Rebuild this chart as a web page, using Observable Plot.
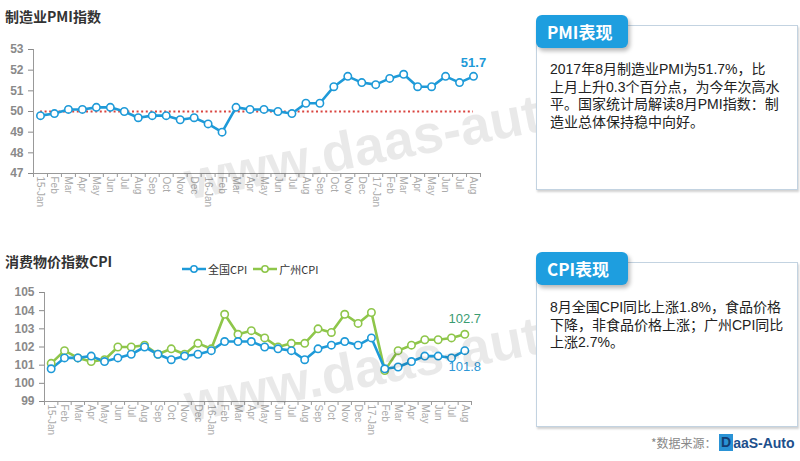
<!DOCTYPE html>
<html>
<head>
<meta charset="utf-8">
<script src="https://cdn.jsdelivr.net/npm/d3@7"></script>
<script src="https://cdn.jsdelivr.net/npm/@observablehq/plot@0.6"></script>
<style>
  html, body { margin: 0; padding: 0; background: #fff; }
  body { width: 800px; height: 461px; position: relative; overflow: hidden;
         font-family: "Noto Sans CJK SC", "Liberation Sans", sans-serif; }
  .abs { position: absolute; }
  .title { font-size: 14px; font-weight: bold; color: #333; white-space: nowrap; }
  .box { border: 1.5px solid #c3d3e1; box-shadow: 1px 2px 2px rgba(0,0,0,0.18); background: #fff; }
  .tab { background: #1e9edf; border-radius: 6px; color: #fff; font-weight: bold; font-size: 17px;
         box-shadow: 2px 3px 4px rgba(0,0,0,0.28); line-height: 33px; padding-left: 11px; box-sizing: border-box; }
  .txt { font-family: "Liberation Sans", "Noto Sans CJK SC", sans-serif; font-size: 14px; color: #222;
         line-height: 17.6px; white-space: nowrap; }
  .legend { font-size: 11px; color: #333; display: flex; align-items: center; white-space: nowrap; }
  .legend span.item { display: inline-flex; align-items: center; margin-right: 6px; }
  .wm { font-family: "Liberation Sans", Arial, sans-serif; font-weight: bold; font-size: 54px;
        color: rgba(0,0,0,0.085); white-space: nowrap; pointer-events: none; transform-origin: left center; }
</style>
</head>
<body>
<div class="abs title" style="left:5px; top:6px;">制造业PMI指数</div>
<div id="pmi" class="abs" style="left:0; top:0;"></div>

<div class="abs title" style="left:5px; top:251px;">消费物价指数CPI</div>
<div id="legend" class="abs legend" style="left:182px; top:261px;"></div>
<div id="cpi" class="abs" style="left:0; top:240px;"></div>

<div class="abs wm" style="left:185px; top:150px; transform: rotate(-11deg);">www.daas-auto.com</div>
<div class="abs wm" style="left:185px; top:372px; transform: rotate(-11deg);">www.daas-auto.com</div>

<div class="abs box" style="left:536px; top:25px; width:260px; height:163px;"></div>
<div class="abs tab" style="left:536px; top:15px; width:92px; height:33px;">PMI表现</div>
<div class="abs txt" style="left:550px; top:61px;">2017年8月制造业PMI为51.7%，比<br>上月上升0.3个百分点，为今年次高水<br>平。国家统计局解读8月PMI指数：制<br>造业总体保持稳中向好。</div>

<div class="abs box" style="left:536px; top:262px; width:260px; height:163px;"></div>
<div class="abs tab" style="left:536px; top:252px; width:92px; height:33px;">CPI表现</div>
<div class="abs txt" style="left:550px; top:299px;">8月全国CPI同比上涨1.8%，食品价格<br>下降，非食品价格上涨；广州CPI同比<br>上涨2.7%。</div>

<div class="abs" style="left:651px; top:434px; font-size:12px; color:#888;">*数据来源：</div>
<div class="abs" style="left:719px; top:434px; display:flex; align-items:center; font-family:'Liberation Sans',Arial,sans-serif; font-weight:bold; font-size:14px; color:#1d4f8c;">
  <span style="background:#2a93d6; color:#123d73; padding:0 2px; line-height:17px;">D</span><span>aaS-Auto</span>
</div>

<script>
const months = ["15-Jan","Feb","Mar","Apr","May","Jun","Jul","Aug","Sep","Oct","Nov","Dec",
                "16-Jan","Feb","Mar","Apr","May","Jun","Jul","Aug","Sep","Oct","Nov","Dec",
                "17-Jan","Feb","Mar","Apr","May","Jun","Jul","Aug"];
const pmi = [49.8,49.9,50.1,50.1,50.2,50.2,50.0,49.7,49.8,49.8,49.6,49.7,
             49.4,49.0,50.2,50.1,50.1,50.0,49.9,50.4,50.4,51.2,51.7,51.4,
             51.3,51.6,51.8,51.2,51.2,51.7,51.4,51.7];
const pmiRef = 50;
const pmiTicks = [47,48,49,50,51,52,53];

const cpiNational = [100.8,101.4,101.4,101.5,101.2,101.4,101.6,102.0,101.6,101.3,101.5,101.6,
                     101.8,102.3,102.3,102.3,102.0,101.9,101.8,101.3,101.9,102.1,102.3,102.1,
                     102.5,100.8,100.9,101.2,101.5,101.5,101.4,101.8];
const cpiGuangzhou = [101.1,101.8,101.4,101.2,101.3,102.0,102.0,102.1,101.6,101.9,101.6,102.2,
                      101.9,103.8,102.7,102.9,102.5,102.0,102.2,102.2,103.0,102.8,103.8,103.3,
                      103.9,100.7,101.8,102.1,102.4,102.4,102.5,102.7];
const cpiTicks = [99,100,101,102,103,104,105];
const seriesNames = ["全国CPI","广州CPI"];

const blue = "#1e9ad8", green = "#8ec64a";
const idx = months.map((_, i) => i);
const bounds = d3.range(-0.5, months.length, 1);
const xDomain = [-0.5, months.length - 0.5];
const baseStyle = {fontFamily: "'Liberation Sans', Arial, sans-serif", background: "transparent", overflow: "visible"};

function commonAxes(yTicks) {
  return [
    Plot.axisY({ticks: yTicks, tickFormat: d => String(d), tickSize: 5, tickPadding: 5, color: "#8a8a8a",
                fontSize: 12, fontWeight: "bold", label: null}),
    Plot.axisX({ticks: idx, tickFormat: i => months[i], tickSize: 0, tickRotate: 90, tickPadding: 3,
                color: "#aaaaaa", fontSize: 10, label: null}),
    Plot.axisX({ticks: bounds, tickFormat: () => "", tickSize: 4, color: "#999", label: null}),
    Plot.ruleX([xDomain[0]], {stroke: "#999", strokeWidth: 1}),
    Plot.ruleY([yTicks[0]], {stroke: "#999", strokeWidth: 1})
  ];
}

const pmiData = pmi.map((v, i) => ({i, v}));
const pmiPlot = Plot.plot({
  width: 500, height: 210,
  marginLeft: 33, marginRight: 20, marginTop: 49, marginBottom: 37,
  style: baseStyle,
  x: {domain: xDomain, label: null},
  y: {domain: [pmiTicks[0], pmiTicks[pmiTicks.length - 1]], label: null},
  marks: [
    ...commonAxes(pmiTicks),
    Plot.ruleY([pmiRef], {x1: idx[0], x2: idx[idx.length - 1], stroke: "#d9443f", strokeWidth: 2, strokeDasharray: "2,2.6"}),
    Plot.line(pmiData, {x: "i", y: "v", stroke: blue, strokeWidth: 2.6}),
    Plot.dot(pmiData, {x: "i", y: "v", r: 3.7, fill: "white", stroke: blue, strokeWidth: 1.6}),
    Plot.text([pmiData[pmiData.length - 1]], {x: "i", y: "v", text: d => d.v.toFixed(1), dy: -14,
      fill: blue, fontWeight: "bold", fontSize: 13})
  ]
});
document.getElementById("pmi").appendChild(pmiPlot);

const natData = cpiNational.map((v, i) => ({i, v}));
const gzData = cpiGuangzhou.map((v, i) => ({i, v}));
const cpiPlot = Plot.plot({
  width: 500, height: 200,
  marginLeft: 44, marginRight: 29, marginTop: 52, marginBottom: 39,
  style: baseStyle,
  x: {domain: xDomain, label: null},
  y: {domain: [cpiTicks[0], cpiTicks[cpiTicks.length - 1]], label: null},
  marks: [
    ...commonAxes(cpiTicks),
    Plot.line(gzData, {x: "i", y: "v", stroke: green, strokeWidth: 2.6}),
    Plot.line(natData, {x: "i", y: "v", stroke: blue, strokeWidth: 2.6}),
    Plot.dot(gzData, {x: "i", y: "v", r: 3.7, fill: "white", stroke: green, strokeWidth: 1.6}),
    Plot.dot(natData, {x: "i", y: "v", r: 3.7, fill: "white", stroke: blue, strokeWidth: 1.6}),
    Plot.text([gzData[gzData.length - 1]], {x: "i", y: "v", text: d => d.v.toFixed(1), dy: -15,
      fill: "#3a9c72", fontSize: 13}),
    Plot.text([natData[natData.length - 1]], {x: "i", y: "v", text: d => d.v.toFixed(1), dy: 16,
      fill: "#2e97d6", fontSize: 13})
  ]
});
document.getElementById("cpi").appendChild(cpiPlot);

// legend
const legend = document.getElementById("legend");
[[seriesNames[0], blue], [seriesNames[1], green]].forEach(([name, c]) => {
  const s = document.createElement("span");
  s.className = "item";
  s.innerHTML = `<svg width="24" height="10" style="margin-right:2px"><line x1="0" y1="5" x2="24" y2="5" stroke="${c}" stroke-width="2.5"/><circle cx="12" cy="5" r="3.2" fill="white" stroke="${c}" stroke-width="1.5"/></svg><span>${name}</span>`;
  legend.appendChild(s);
});
</script>
</body>
</html>
